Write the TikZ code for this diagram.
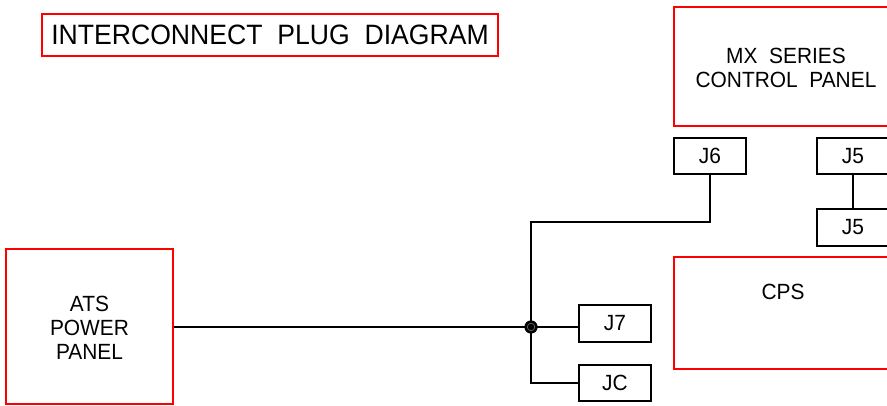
\documentclass[tikz,border=0pt]{standalone}
\usepackage{fontspec}
\newfontfamily\cadfont[FakeStretch=0.95]{Liberation Sans}
\begin{document}
\begin{tikzpicture}[x=1pt,y=-1pt,
  redbox/.style={draw=red, line width=1.7pt, rectangle, inner sep=0pt},
  plugbox/.style={draw=black, line width=1.7pt, rectangle, inner sep=0pt, minimum width=72, minimum height=36, font=\cadfont\fontsize{22}{24}\selectfont},
  txt/.style={inner sep=0pt, align=center, font=\cadfont\fontsize{22}{24}\selectfont},
  wire/.style={draw=black, line width=1.7pt}]
\useasboundingbox (0,0) rectangle (887,406);
\clip (0,0) rectangle (887,406);
% title
\node[redbox, minimum width=456, minimum height=42, font=\cadfont\fontsize{28}{30}\selectfont] (title) at (270,35) {INTERCONNECT\ \ PLUG\ \ DIAGRAM};
% panels
\node[redbox, minimum width=226, minimum height=119] (mx) at (787,66.5) {};
\node[txt] (mxt) at (786,67.5) {MX\ \ SERIES\\CONTROL\ \ PANEL};
\node[redbox, minimum width=167, minimum height=155] (ats) at (89.5,326.5) {};
\node[txt] (atst) at (89.5,328) {ATS\\POWER\\PANEL};
\node[redbox, minimum width=218, minimum height=112] (cps) at (783,313) {};
\node[txt] (cpst) at (783,292) {CPS};
% plugs
\node[plugbox] (j6) at (710,156) {J6};
\node[plugbox] (j5a) at (853,156) {J5};
\node[plugbox, minimum height=37] (j5b) at (853,227.5) {J5};
\node[plugbox, minimum height=37] (j7) at (615,323.5) {J7};
\node[plugbox] (jc) at (615,383) {JC};
% junction
\node[circle, fill=black, minimum size=13pt, inner sep=0pt] (j) at (531,327) {};
\coordinate (k) at (531,222);
% wires
\draw[wire] (j5a.south) -- (j5b.north);
\draw[wire] (ats.east |- j) -- (j.center);
\draw[wire] (j.center) -- (j -| j7.west);
\draw[wire] (j6.south) |- (k) -- (j.center);
\draw[wire] (j.center) |- (jc.west);
\fill[black] (j.center) circle[radius=6.5pt];
\draw[black!55, line width=0.6pt] (j.center) circle[radius=3.8pt];
\end{tikzpicture}
\end{document}
